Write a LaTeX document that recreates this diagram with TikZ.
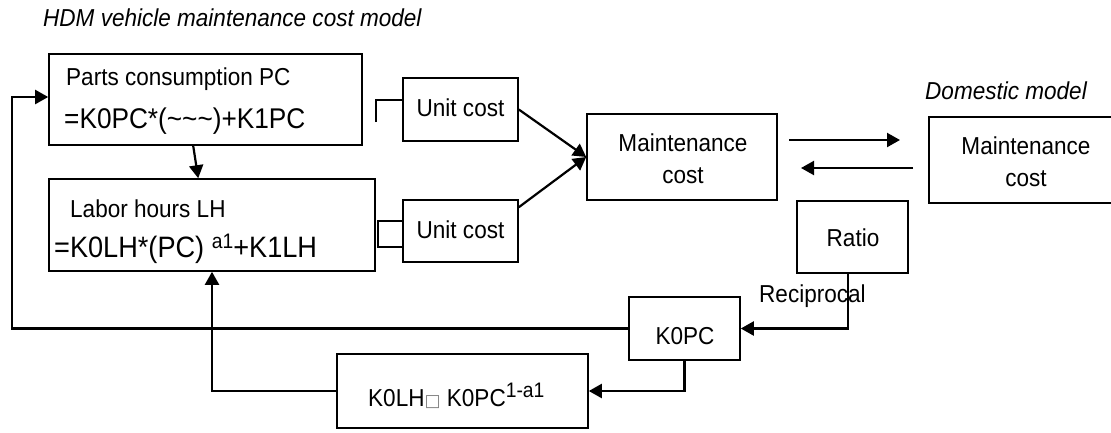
\documentclass[tikz,border=0pt]{standalone}
\usepackage{fontspec}
\setmainfont[FakeStretch=0.92]{Liberation Sans}
\newfontfamily\symfont{DejaVu Sans}
\usetikzlibrary{arrows.meta,calc}
\tikzset{
  box/.style={draw, line width=1.6pt, inner sep=0pt},
  lbl/.style={inner sep=0pt, font=\fontsize{24.5}{29}\selectfont},
  big/.style={inner sep=0pt, font=\fontsize{28.5}{32}\selectfont},
  conn/.style={line width=2.2pt},
  arr/.style={line width=2.2pt, -{Triangle[length=13pt,width=14pt]}},
}
\begin{document}
\begin{tikzpicture}[x=1pt,y=-1pt]
\useasboundingbox (0,0) rectangle (1111,432);
% title
\node[lbl, anchor=west, font=\fontsize{24.5}{29}\selectfont\itshape] (title) at (43,18) {HDM vehicle maintenance cost model};
% boxes
\node[box, minimum width=313pt, minimum height=91pt] (pc) at (205.5,99.5) {};
\node[lbl, anchor=west] (pct1) at (66,79) {Parts consumption PC};
\node[big, anchor=west] (pct2) at (64,121) {=K0PC*(\textasciitilde\textasciitilde\textasciitilde)+K1PC};
\node[box, minimum width=326pt, minimum height=92pt] (lh) at (212,225) {};
\node[lbl, anchor=west] (lht1) at (70,209) {Labor hours LH};
\node[big, anchor=west, font=\fontsize{29.5}{32}\selectfont] (lht2) at (54,249) {=K0LH*(PC) \raisebox{9pt}{\fontsize{21}{21}\selectfont a1}+K1LH};
\node[box, minimum width=115pt, minimum height=63pt] (uc1) at (460.5,109.5) {};
\node[lbl] (uc1t) at (460.5,108) {Unit cost};
\node[box, minimum width=115pt, minimum height=62pt] (uc2) at (460.5,231) {};
\node[lbl] (uc2t) at (460.5,230) {Unit cost};
\node[box, minimum width=190pt, minimum height=86pt] (mc) at (682,157) {};
\node[lbl, align=center, font=\fontsize{24.5}{32}\selectfont] (mct) at (683,159) {Maintenance\\cost};
\node[box, minimum width=194pt, minimum height=86pt] (dm) at (1026,160) {};
\node[lbl, align=center, font=\fontsize{24.5}{32}\selectfont] (dmt) at (1026,162) {Maintenance\\cost};
\node[lbl, anchor=west, font=\fontsize{24.5}{29}\selectfont\itshape] (dmlab) at (925,91) {Domestic model};
\node[box, minimum width=111pt, minimum height=72pt] (ratio) at (852.5,237) {};
\node[lbl] (ratiot) at (853,238) {Ratio};
\node[box, minimum width=111pt, minimum height=63pt] (k0pc) at (684.5,328.5) {};
\node[lbl] (k0pct) at (685,336) {K0PC};
\node[box, minimum width=251pt, minimum height=74pt] (k0lh) at (462.5,391) {};
\node[lbl, anchor=west] (k0lht) at (368,396) {K0LH{\symfont\fontsize{17}{17}\selectfont\color{gray}□} K0PC\raisebox{9pt}{\fontsize{21}{21}\selectfont 1-a1}};
\node[lbl, anchor=west] (recip) at (759,296) {Reciprocal};
% connectors
\draw[arr] ($(pc.south west)+(145,0)$) -- ($(lh.north west)+(150,0)$);
\draw[arr] (k0pc.west) -- (12,328.5) -- (12,97) -- (pc.west |- 0,97);
\draw[arr] (k0lh.west) -- (212,391) -- (lh.south -| 212,0);
\draw[arr] (k0pc.south) -- (684.5,391) -- (k0lh.east);
\draw[arr] (ratio.south -| 848,0) -- (848,328.5) -- (k0pc.east);
\draw[arr] (uc1.east) -- (mc.west);
\draw[arr] ($(uc2.north east)+(0,8)$) -- (mc.west);
\draw[conn] (376,122) -- (376,100) -- (uc1.north west |- 0,100);
\draw[conn] (uc2.west |- 0,221) -- (378,221) -- (378,247) -- (uc2.west |- 0,247);
\draw[arr] (789,140) -- (900,140);
\draw[arr] (913,168) -- (801,168);
\end{tikzpicture}
\end{document}
